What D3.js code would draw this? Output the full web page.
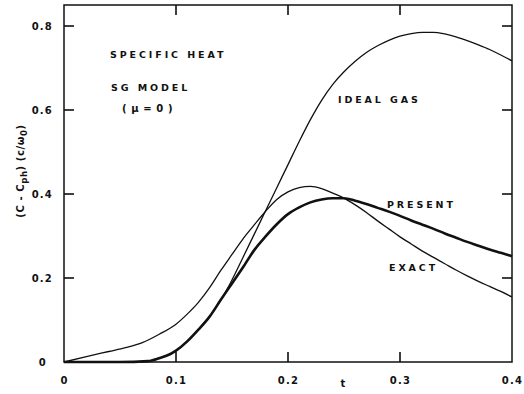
<!DOCTYPE html>
<html>
<head>
<meta charset="utf-8">
<script src="https://cdn.jsdelivr.net/npm/d3@7"></script>
<style>
  body { margin: 0; background: #fff; }
  svg text { font-family: "DejaVu Sans", "Liberation Sans", sans-serif; fill: #111; }
</style>
</head>
<body>
<div id="container"></div>
<script>
const width = 524;
const height = 394;

// t values and curves
const exactT = [0, 0.02, 0.04, 0.055, 0.07, 0.085, 0.1, 0.11, 0.12, 0.13, 0.14, 0.15, 0.16, 0.17, 0.18, 0.19, 0.2, 0.21, 0.22, 0.23, 0.24, 0.25, 0.26, 0.27, 0.28, 0.29, 0.3, 0.31, 0.32, 0.33, 0.34, 0.35, 0.36, 0.37, 0.38, 0.39, 0.4];
const exactC = [0, 0.013, 0.025, 0.034, 0.046, 0.066, 0.09, 0.114, 0.142, 0.177, 0.218, 0.256, 0.294, 0.327, 0.359, 0.387, 0.405, 0.415, 0.418, 0.413, 0.402, 0.39, 0.374, 0.356, 0.336, 0.317, 0.298, 0.281, 0.264, 0.249, 0.234, 0.219, 0.205, 0.192, 0.18, 0.168, 0.155];

const presentT = [0, 0.05, 0.075, 0.085, 0.095, 0.1, 0.11, 0.12, 0.13, 0.14, 0.15, 0.16, 0.17, 0.18, 0.19, 0.2, 0.21, 0.22, 0.23, 0.24, 0.25, 0.26, 0.27, 0.28, 0.29, 0.3, 0.31, 0.32, 0.33, 0.34, 0.35, 0.36, 0.37, 0.38, 0.39, 0.4];
const presentC = [0, 0, 0.002, 0.009, 0.019, 0.027, 0.049, 0.077, 0.108, 0.148, 0.187, 0.226, 0.267, 0.299, 0.328, 0.352, 0.368, 0.38, 0.387, 0.39, 0.39, 0.384, 0.376, 0.367, 0.358, 0.348, 0.337, 0.327, 0.317, 0.306, 0.296, 0.286, 0.277, 0.268, 0.26, 0.252];

const idealT = [0, 0.05, 0.075, 0.085, 0.095, 0.1, 0.11, 0.12, 0.13, 0.14, 0.148, 0.16, 0.17, 0.18, 0.19, 0.2, 0.21, 0.22, 0.23, 0.24, 0.25, 0.26, 0.27, 0.28, 0.29, 0.3, 0.31, 0.32, 0.33, 0.34, 0.35, 0.36, 0.37, 0.38, 0.39, 0.4];
const idealC = [0, 0, 0.002, 0.009, 0.019, 0.027, 0.049, 0.077, 0.108, 0.148, 0.185, 0.25, 0.305, 0.36, 0.415, 0.47, 0.525, 0.577, 0.623, 0.661, 0.691, 0.716, 0.737, 0.753, 0.766, 0.776, 0.782, 0.785, 0.785, 0.781, 0.774, 0.765, 0.755, 0.744, 0.731, 0.717];

const xTicks = [0, 0.1, 0.2, 0.3, 0.4];
const xInner = [0.1, 0.2, 0.3];
const yTicks = [0, 0.2, 0.4, 0.6, 0.8];
const yInner = [0.2, 0.4, 0.6, 0.8];

const xScale = d3.scaleLinear().domain([0, 0.4]).range([64, 512]);
const yScale = d3.scaleLinear().domain([0, 0.85]).range([362, 5]);

const svg = d3.select("#container")
  .append("svg")
  .attr("width", width)
  .attr("height", height);

const fmt = (d) => (d === 0 ? "0" : d3.format(".1f")(d));
const y0 = yScale(0), yTop = yScale(0.85), xL = xScale(0), xR = xScale(0.4);
const tickLen = 10;
const tickW = 1.6;

// tick labels from the axes
svg.append("g")
  .attr("class", "labels")
  .attr("transform", `translate(0, ${y0})`)
  .call(d3.axisBottom(xScale).tickValues(xTicks).tickSize(0).tickPadding(15).tickFormat(fmt));

const yAxisLeft = svg.append("g")
  .attr("class", "labels")
  .attr("transform", `translate(${xL}, 0)`)
  .call(d3.axisLeft(yScale).tickValues(yTicks).tickSize(0).tickPadding(11).tickFormat(fmt));

svg.selectAll(".labels .domain").remove();
svg.selectAll(".labels .tick line").remove();

svg.selectAll(".tick text")
  .attr("font-size", 10)
  .attr("font-weight", "bold")
  .attr("letter-spacing", 1.2)
  .attr("fill", "#111");

// "0" on the y-axis sits a bit further left
yAxisLeft.selectAll(".tick text").filter((d) => d === 0).attr("dx", -6);

// frame
svg.append("rect")
  .attr("x", xL)
  .attr("y", yTop)
  .attr("width", xR - xL)
  .attr("height", y0 - yTop)
  .attr("fill", "none")
  .attr("stroke", "#111")
  .attr("stroke-width", 1.5);

// inward ticks on all four sides, as small filled bars
const ticks = svg.append("g").attr("fill", "#111");
ticks.selectAll(".xb").data(xInner).enter().append("rect")
  .attr("x", (d) => xScale(d) - tickW / 2).attr("y", y0 - tickLen)
  .attr("width", tickW).attr("height", tickLen);
ticks.selectAll(".xt").data(xInner).enter().append("rect")
  .attr("x", (d) => xScale(d) - tickW / 2).attr("y", yTop)
  .attr("width", tickW).attr("height", tickLen);
ticks.selectAll(".yl").data(yInner).enter().append("rect")
  .attr("x", xL).attr("y", (d) => yScale(d) - tickW / 2)
  .attr("width", tickLen).attr("height", tickW);
ticks.selectAll(".yr").data(yInner).enter().append("rect")
  .attr("x", xR - tickLen).attr("y", (d) => yScale(d) - tickW / 2)
  .attr("width", tickLen).attr("height", tickW);

// curves
const line = d3.line()
  .x((d) => xScale(d[0]))
  .y((d) => yScale(d[1]))
  .curve(d3.curveMonotoneX);

const series = [
  { t: idealT, c: idealC, w: 1.3 },
  { t: exactT, c: exactC, w: 1.3 },
  { t: presentT, c: presentC, w: 2.6 },
];

svg.selectAll("path.curve")
  .data(series)
  .enter()
  .append("path")
  .attr("class", "curve")
  .attr("fill", "none")
  .attr("stroke", "#111")
  .attr("stroke-width", (d) => d.w)
  .attr("d", (d) => line(d.t.map((t, i) => [t, d.c[i]])));

// annotations
const notes = [
  { text: "SPECIFIC HEAT", x: 110, y: 58 },
  { text: "SG MODEL", x: 111, y: 91 },
  { text: "IDEAL GAS", x: 338, y: 103 },
  { text: "PRESENT", x: 387, y: 208 },
  { text: "EXACT", x: 389, y: 271 },
];

svg.selectAll("text.note")
  .data(notes)
  .enter()
  .append("text")
  .attr("class", "note")
  .attr("x", (d) => d.x)
  .attr("y", (d) => d.y)
  .attr("font-size", 9.5)
  .attr("font-weight", "bold")
  .attr("letter-spacing", 2.9)
  .text((d) => d.text);

svg.append("text")
  .attr("x", 122)
  .attr("y", 112)
  .attr("font-size", 10)
  .attr("font-weight", "bold")
  .attr("letter-spacing", 0.6)
  .text("( μ = 0 )");

svg.append("text")
  .attr("x", 343)
  .attr("y", 387)
  .attr("text-anchor", "middle")
  .attr("font-size", 10)
  .attr("font-weight", "bold")
  .text("t");

// y-axis title
const ylab = svg.append("text")
  .attr("transform", "translate(24, 171) rotate(-90)")
  .attr("text-anchor", "middle")
  .attr("font-size", 10)
  .attr("font-weight", "bold")
  .attr("letter-spacing", 0.6);
ylab.append("tspan").text("(C - C");
ylab.append("tspan").attr("font-size", 8.5).attr("dy", 3).text("ph");
ylab.append("tspan").attr("dy", -3).text(") (c/ω");
ylab.append("tspan").attr("font-size", 8.5).attr("dy", 3).text("0");
ylab.append("tspan").attr("dy", -3).text(")");
</script>
</body>
</html>
